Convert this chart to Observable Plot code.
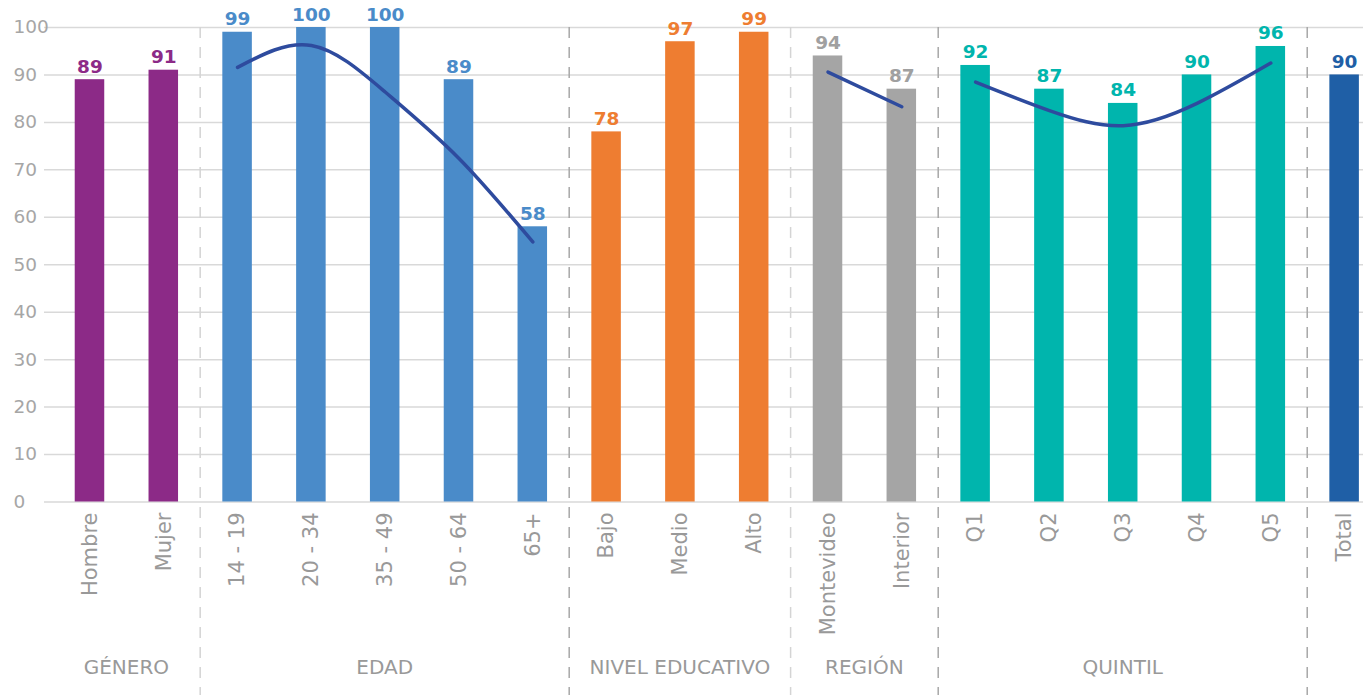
<!DOCTYPE html>
<html><head><meta charset="utf-8">
<script src="https://cdn.jsdelivr.net/npm/d3@7"></script>
<script src="https://cdn.jsdelivr.net/npm/@observablehq/plot@0.6"></script>
<style>body{margin:0;background:#fff}#chart svg{display:block}</style>
</head><body><div id="chart"></div>
<script>
// ---- data ----
const categories = ["Hombre","Mujer","14 - 19","20 - 34","35 - 49","50 - 64","65+","Bajo","Medio","Alto","Montevideo","Interior","Q1","Q2","Q3","Q4","Q5","Total"];
const values = [89,91,99,100,100,89,58,78,97,99,94,87,92,87,84,90,96,90];
const groupOf = ["GÉNERO","GÉNERO","EDAD","EDAD","EDAD","EDAD","EDAD","NIVEL EDUCATIVO","NIVEL EDUCATIVO","NIVEL EDUCATIVO","REGIÓN","REGIÓN","QUINTIL","QUINTIL","QUINTIL","QUINTIL","QUINTIL","TOTAL"];
const groupLabels = ["GÉNERO","EDAD","NIVEL EDUCATIVO","REGIÓN","QUINTIL"];
const yTicks = [0,10,20,30,40,50,60,70,80,90,100];

// trend curves
const edadTrendCats = ["14 - 19","20 - 34","35 - 49","50 - 64","65+"];
const edadTrend = [91.6,96.2,86.4,72.4,54.8];
const regionTrendCats = ["Montevideo","Interior"];
const regionTrend = [90.6,83.3];
const quintilTrendCats = ["Q1","Q2","Q3","Q4","Q5"];
const quintilTrend = [88.5,82.5,79.3,84.0,92.5];

// separators after these categories
const separatorAfter = ["Mujer","65+","Alto","Interior","Q5"];

// ---- styles ----
const barColors = {"GÉNERO":"#8c2a87","EDAD":"#4a8bc9","NIVEL EDUCATIVO":"#ee7d31","REGIÓN":"#a5a5a5","QUINTIL":"#00b5ad","TOTAL":"#1f5fa6"};
const labelColors = {"GÉNERO":"#8c2a87","EDAD":"#4a8bc9","NIVEL EDUCATIVO":"#ee7d31","REGIÓN":"#a0a0a0","QUINTIL":"#00b5ad","TOTAL":"#1f5fa6"};
const lightSeparators = new Set(["Mujer","Alto"]);
const trendColor = "#2e4b9e";
const font = "DejaVu Sans";

const rows = categories.map((c,i)=>({cat:c, value:values[i], group:groupOf[i]}));
const mk = (cats, vals) => cats.map((c,i)=>({cat:c, value:vals[i]}));

const plot = Plot.plot({
  width:1363, height:695,
  marginTop:27, marginBottom:193.5, marginLeft:44, marginRight:0,
  style:{fontFamily:font, background:"#fff"},
  x:{type:"band", domain:categories, range:[45.2,1388.4], paddingInner:0.6, paddingOuter:0.4, align:0.5, round:false},
  y:{domain:[0,100]},
  color:{type:"identity"},
  marks:[
    Plot.gridY(yTicks, {stroke:"#d9d9d9", strokeOpacity:1, strokeWidth:1.5}),
    Plot.axisY(yTicks, {tickSize:0, tickPadding:0, textAnchor:"start", dx:-31, fontSize:18.5, fill:"#a6a6a6", label:null}),
    Plot.axisX({tickSize:0, tickPadding:10.5, rotate:-90, textAnchor:"end", lineAnchor:"middle", fontSize:21, fill:"#999", label:null}),
    Plot.barY(rows, {x:"cat", y:"value", fill:d=>barColors[d.group]}),
    Plot.text(rows, {x:"cat", y:"value", text:d=>String(d.value), dy:-7, lineAnchor:"bottom", fontWeight:"bold", fontSize:18.5, fill:d=>labelColors[d.group]}),
    Plot.line(mk(edadTrendCats, edadTrend), {x:"cat", y:"value", curve:"natural", stroke:trendColor, strokeWidth:3.5}),
    Plot.line(mk(regionTrendCats, regionTrend), {x:"cat", y:"value", stroke:trendColor, strokeWidth:3.5}),
    Plot.line(mk(quintilTrendCats, quintilTrend), {x:"cat", y:"value", curve:"natural", stroke:trendColor, strokeWidth:3.5})
  ]
});

// separators and group labels derived from the scales
const xs = plot.scale("x"), ys = plot.scale("y");
const bw = xs.bandwidth, step = xs.step;
const svg = d3.select(plot);
const yTop = ys.apply(100);
separatorAfter.forEach(c=>{
  const xp = xs.apply(c) + bw + (step - bw)/2;
  svg.append("line").attr("x1",xp).attr("x2",xp).attr("y1",yTop).attr("y2",695)
    .attr("stroke", lightSeparators.has(c) ? "#d4d4d4" : "#a8a8a8")
    .attr("stroke-width",1.5).attr("stroke-dasharray","11,9");
});
groupLabels.forEach(g=>{
  const cats = categories.filter((c,i)=>groupOf[i]===g);
  const x0 = xs.apply(cats[0]), x1 = xs.apply(cats[cats.length-1]) + bw;
  svg.append("text").attr("x",(x0+x1)/2).attr("y",668).attr("text-anchor","middle")
    .attr("dominant-baseline","middle").attr("font-family",font).attr("font-size",20)
    .attr("fill","#999").text(g);
});
document.getElementById("chart").appendChild(plot);
</script></body></html>
